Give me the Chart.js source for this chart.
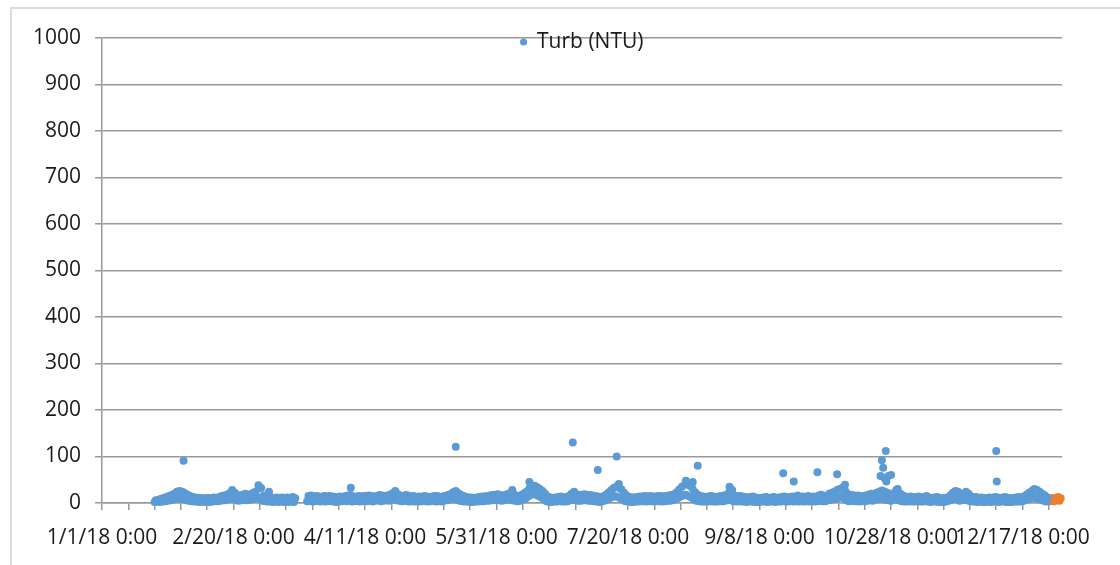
<!DOCTYPE html>
<html>
<head>
<meta charset="utf-8">
<script src="https://cdn.jsdelivr.net/npm/chart.js@4.4.1/dist/chart.umd.min.js"></script>
<style>
  body { margin: 0; background: #fff; overflow: hidden; }
  #frame { position: absolute; left: 10px; top: 7px; width: 1200px; height: 560px; border: 2px solid #dcdcdc; }
  #turb-chart { position: absolute; left: 0; top: 0; }
</style>
</head>
<body>
<div id="frame"></div>
<canvas id="turb-chart" width="1120" height="565"></canvas>
<script>
// day 0 = 1/1/18 0:00
const firstDay = 20;

// lower reading of each day, days 20..359 (null = no data)
const turbLow = [
    2, 3, 2, 3, 4, 5, 6, 7, 9, 11,
    10, 8, 6, 5, 4, 3, 3, 2, 3, 2,
    3, 2, 3, 4, 4, 5, 6, 6, 8, 9,
    8, 6, 5, 6, 7, 6, 7, 8, 9, 12,
    10, 5, 4, 3, 3, 2, 3, 2, 3, 2,
    3, 2, 3, 2, null, null, null, null, 4, 5,
    3, 4, 5, 3, 4, 3, 5, 4, 3, 2,
    3, 4, 5, 4, 6, 3, 4, 5, 3, 4,
    5, 4, 6, 3, 5, 6, 4, 5, 6, 5,
    7, 8, 6, 5, 4, 5, 4, 3, 4, 3,
    4, 3, 5, 4, 3, 4, 5, 3, 4, 3,
    5, 6, 7, 8, 9, 7, 5, 4, 3, 3,
    2, 2, 3, 3, 4, 4, 5, 5, 6, 6,
    7, 6, 5, 6, 7, 8, 6, 5, 4, 5,
    7, 9, 14, 18, 20, 18, 15, 12, 8, 4,
    2, 2, 3, 3, 4, 3, 3, 4, 6, 8,
    6, 5, 5, 6, 6, 5, 5, 4, 3, 2,
    3, 5, 7, 10, 13, 15, 13, 10, 7, 4,
    3, 2, 2, 3, 3, 4, 4, 3, 4, 4,
    3, 4, 4, 3, 4, 5, 5, 6, 8, 11,
    14, 16, 18, 15, 12, 8, 5, 4, 3, 3,
    3, 4, 3, 3, 3, 4, 4, 5, 7, 9,
    4, 3, 4, 3, 3, 2, 3, 3, 2, 2,
    2, 3, 3, 2, 3, 3, 2, 3, 3, 4,
    3, 3, 4, 3, 4, 3, 4, 3, 4, 3,
    4, 3, 4, 5, 4, 4, 6, 7, 8, 10,
    11, 13, 10, 6, 4, 5, 4, 4, 3, 4,
    4, 5, 6, 5, 7, 8, 10, 9, 7, 6,
    5, 7, 10, 6, 4, 3, 3, 4, 3, 3,
    4, 3, 3, 4, 3, 2, 3, 3, 2, 2,
    2, 3, 5, 7, 9, 8, 5, 6, 8, 6,
    4, 3, 3, 2, 3, 2, 2, 3, 2, 3,
    3, 2, 3, 3, 2, 2, 2, 3, 3, 3,
    4, 6, 8, 10, 12, 11, 9, 7, 5, 3
];

// higher reading of each day (taken half a day later), days 20..359
const turbHigh = [
    6, 7, 9, 11, 13, 15, 17, 20, 24, 26,
    24, 21, 18, 15, 13, 12, 11, 11, 10, 10,
    11, 10, 12, 11, 13, 15, 16, 18, 21, 28,
    22, 17, 15, 18, 20, 17, 19, 22, 25, 38,
    32, 16, 14, 13, 12, 11, 12, 11, 12, 10,
    12, 11, 13, 10, null, null, null, null, 15, 16,
    14, 15, 14, 13, 15, 14, 15, 14, 13, 12,
    14, 13, 15, 16, 17, 14, 13, 15, 14, 15,
    15, 16, 15, 14, 15, 17, 16, 15, 16, 18,
    21, 26, 19, 16, 15, 17, 16, 14, 15, 13,
    14, 13, 15, 14, 13, 14, 15, 15, 13, 14,
    15, 17, 19, 23, 26, 21, 17, 15, 13, 12,
    12, 11, 12, 13, 14, 14, 15, 16, 17, 18,
    19, 17, 16, 18, 20, 21, 19, 16, 14, 17,
    21, 25, 31, 35, 37, 34, 30, 26, 20, 14,
    12, 11, 12, 13, 14, 12, 13, 15, 20, 24,
    19, 17, 18, 19, 18, 17, 16, 15, 14, 12,
    14, 17, 22, 27, 32, 35, 33, 29, 22, 16,
    13, 12, 12, 13, 14, 14, 15, 14, 15, 14,
    14, 15, 15, 14, 15, 16, 17, 19, 23, 29,
    35, 39, 41, 37, 31, 23, 18, 15, 14, 13,
    14, 15, 14, 13, 14, 15, 16, 18, 23, 27,
    16, 14, 15, 14, 13, 12, 13, 14, 12, 11,
    11, 12, 13, 11, 12, 13, 11, 12, 13, 14,
    12, 13, 14, 12, 16, 13, 14, 12, 15, 13,
    14, 12, 16, 18, 15, 14, 20, 22, 24, 28,
    30, 33, 27, 20, 16, 17, 15, 16, 14, 15,
    16, 18, 20, 17, 22, 24, 27, 25, 22, 20,
    18, 23, 30, 20, 16, 14, 13, 14, 12, 13,
    14, 12, 13, 15, 12, 11, 12, 13, 11, 10,
    11, 12, 16, 22, 26, 24, 18, 20, 24, 20,
    14, 12, 13, 11, 12, 10, 11, 12, 11, 13,
    12, 11, 12, 13, 11, 10, 11, 12, 13, 12,
    14, 18, 22, 26, 30, 28, 24, 20, 16, 12
];

// isolated high readings
const spikeDays   = [31, 63.5, 94.6, 134.5, 156, 162.5, 179, 188.5, 195.7, 196.5, 222, 224.6, 226.5, 238.6, 239.6,
                     259, 263, 272, 279.5, 282.5, 296, 296.5, 297, 297.5, 298, 298.2, 299, 300, 302, 340, 340.2];
const spikeValues = [91, 24, 33, 121, 28, 45, 130, 71, 100, 41, 48, 45, 80, 35, 28,
                     64, 46, 66, 62, 39, 58, 92, 76, 54, 112, 46, 58, 60, 28, 112, 46];

// last readings of the year (orange)
const lateDays   = [360, 360.5, 361, 361.5, 362, 362.5, 363, 363.5, 364, 364.5];
const lateValues = [4, 10, 5, 11, 4, 9, 6, 13, 5, 10];

// labelled ticks on the date axis
const xTickDays   = [0, 50, 100, 150, 200, 250, 300, 350];
const xTickLabels = ['1/1/18 0:00', '2/20/18 0:00', '4/11/18 0:00', '5/31/18 0:00',
                     '7/20/18 0:00', '9/8/18 0:00', '10/28/18 0:00', '12/17/18 0:00'];

const turbPoints = [];
turbLow.forEach(function(v, i) {
    if (v !== null) turbPoints.push({ x: firstDay + i, y: v });
});
turbHigh.forEach(function(v, i) {
    if (v !== null) turbPoints.push({ x: firstDay + i + 0.5, y: v });
});
spikeDays.forEach(function(d, i) {
    turbPoints.push({ x: d, y: spikeValues[i] });
});
const latePoints = lateDays.map(function(d, i) { return { x: d, y: lateValues[i] }; });

const gridGray = '#999999';
const textFont = { family: "'Open Sans', sans-serif", size: 21 };

// legend sits over the top gridline, centred on the plot, like in the original
const legendNudge = {
    id: 'legendNudge',
    afterLayout: function(chart) {
        const lg = chart.legend;
        if (!lg) return;
        const h = lg.bottom - lg.top;
        lg.top = 42 - 10.5;
        lg.bottom = lg.top + h;
        lg.left = chart.chartArea.left;
        lg.right = chart.chartArea.right;
    }
};

const chart = new Chart(document.getElementById('turb-chart'), {
    type: 'scatter',
    data: {
        datasets: [{
            label: 'Turb (NTU)',
            data: turbPoints,
            backgroundColor: '#5b9bd5',
            borderColor: '#5b9bd5',
            pointRadius: 4,
            pointBorderWidth: 0,
            clip: false
        }, {
            label: 'Turb (NTU) late',
            data: latePoints,
            backgroundColor: '#ed7d31',
            borderColor: '#ed7d31',
            pointRadius: 4,
            pointBorderWidth: 0,
            clip: false
        }]
    },
    options: {
        responsive: false,
        devicePixelRatio: 1,
        animation: false,
        layout: {
            padding: { left: 10, right: 58, top: 7, bottom: 0 }
        },
        scales: {
            x: {
                type: 'linear',
                min: 0,
                max: 365,
                afterBuildTicks: function(scale) {
                    const ticks = [];
                    for (let d = 0; d <= 360; d += 10) ticks.push({ value: d });
                    scale.ticks = ticks;
                },
                afterFit: function(scale) { scale.height = 62; },
                grid: {
                    drawOnChartArea: false,
                    drawTicks: true,
                    tickLength: 7,
                    color: gridGray,
                    lineWidth: 1.5
                },
                border: { display: true, color: gridGray, width: 1.5 },
                ticks: {
                    autoSkip: false,
                    maxRotation: 0,
                    minRotation: 0,
                    padding: 15,
                    color: '#1a1a1a',
                    font: textFont,
                    callback: function(value) {
                        const k = xTickDays.indexOf(value);
                        return k >= 0 ? xTickLabels[k] : '';
                    }
                }
            },
            y: {
                min: 0,
                max: 1000,
                afterFit: function(scale) { scale.width = 92; },
                grid: {
                    color: gridGray,
                    lineWidth: 1.5,
                    tickLength: 7
                },
                border: { display: true, color: gridGray, width: 1.5 },
                ticks: {
                    stepSize: 100,
                    padding: 14,
                    color: '#1a1a1a',
                    font: textFont,
                    callback: function(value) { return String(value); }
                }
            }
        },
        plugins: {
            legend: {
                display: true,
                position: 'top',
                align: 'center',
                labels: {
                    usePointStyle: true,
                    pointStyle: 'circle',
                    boxWidth: 6,
                    boxHeight: 5,
                    padding: 0,
                    color: '#1a1a1a',
                    font: textFont,
                    filter: function(item) { return item.datasetIndex === 0; }
                }
            },
            tooltip: { enabled: false }
        }
    },
    plugins: [legendNudge]
});
</script>
</body>
</html>
